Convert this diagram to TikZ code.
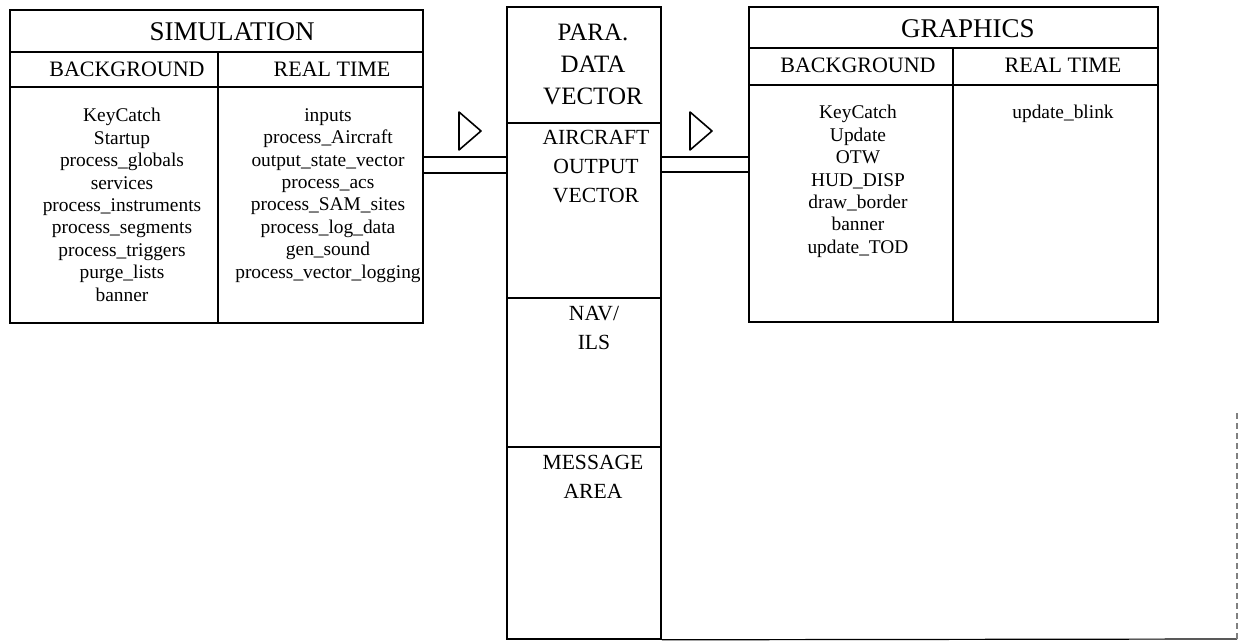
\documentclass[tikz,border=0pt]{standalone}
\usepackage{fontspec}
\setmainfont{Liberation Serif}
\usetikzlibrary{positioning}

\begin{document}
\begin{tikzpicture}[
  x=0.5pt,y=-0.5pt,
  frame/.style={draw,line width=0.8pt,inner sep=0pt},
  rule/.style={line width=0.8pt},
  link/.style={line width=0.6pt},
  flowtip/.style={line width=0.8pt,line join=round},
  title/.style={inner sep=0pt,font=\fontsize{13.5}{16}\selectfont},
  colhead/.style={inner sep=0pt,font=\fontsize{11}{13}\selectfont},
  items/.style={anchor=north,inner sep=0pt,align=center,font=\fontsize{9.7}{11.2}\selectfont},
  vecbig/.style={anchor=north,inner sep=0pt,align=center,font=\fontsize{12.5}{16}\selectfont},
  vec/.style={anchor=north,inner sep=0pt,align=center,font=\fontsize{10.8}{14.4}\selectfont},
]
\useasboundingbox (0,0) rectangle (1238,641);

% the three blocks
\node[frame,minimum width=206.5pt,minimum height=156.5pt] (sim) at (216.5,166.5) {};
\node[frame,minimum width=77pt,minimum height=316pt] (mid) at (584,323) {};
\node[frame,minimum width=204.5pt,minimum height=157.5pt] (gfx) at (953.5,164.5) {};

% simulation table
\draw[rule] (sim.west |- 0,52) -- (sim.east |- 0,52);
\draw[rule] (sim.west |- 0,87) -- (sim.east |- 0,87);
\draw[rule] (218,52) -- (sim.south -| 218,0);
\node[title] (simtitle) at (232,32) {SIMULATION};
\node[colhead] (simbg) at (127,69) {BACKGROUND};
\node[colhead] (simrt) at (332,69) {REAL TIME};
\node[items] (simbglist) at (122,108) {KeyCatch\\Startup\\process\_globals\\services\\process\_instruments\\process\_segments\\process\_triggers\\purge\_lists\\banner};
\node[items] (simrtlist) at (328,108) {inputs\\process\_Aircraft\\output\_state\_vector\\process\_acs\\process\_SAM\_sites\\process\_log\_data\\gen\_sound\\process\_vector\_logging};

% parameter data vector column
\draw[rule] (mid.west |- 0,123) -- (mid.east |- 0,123);
\draw[rule] (mid.west |- 0,298) -- (mid.east |- 0,298);
\draw[rule] (mid.west |- 0,447) -- (mid.east |- 0,447);
\node[vecbig] (para) at (593,24) {PARA.\\DATA\\VECTOR};
\node[vec] (acvec) at (596,130) {AIRCRAFT\\OUTPUT\\VECTOR};
\node[vec] (navils) at (594,306) {NAV/\\ILS};
\node[vec] (msgarea) at (593,455) {MESSAGE\\AREA};

% graphics table
\draw[rule] (gfx.west |- 0,48) -- (gfx.east |- 0,48);
\draw[rule] (gfx.west |- 0,85) -- (gfx.east |- 0,85);
\draw[rule] (953,48) -- (gfx.south -| 953,0);
\node[title] (gfxtitle) at (968,29) {GRAPHICS};
\node[colhead] (gfxbg) at (858,65) {BACKGROUND};
\node[colhead] (gfxrt) at (1063,65) {REAL TIME};
\node[items] (gfxbglist) at (858,105) {KeyCatch\\Update\\OTW\\HUD\_DISP\\draw\_border\\banner\\update\_TOD};
\node[items] (gfxrtlist) at (1063,105) {update\_blink};

% data paths
\draw[link] (sim.east |- 0,157) -- (mid.west |- 0,157);
\draw[link] (sim.east |- 0,173) -- (mid.west |- 0,173);
\draw[link] (mid.east |- 0,157) -- (gfx.west |- 0,157);
\draw[link] (mid.east |- 0,172) -- (gfx.west |- 0,172);
\draw[flowtip] (459,112) -- (481,131) -- (459,150) -- cycle;
\draw[flowtip] (690,112) -- (712,131) -- (690,150) -- cycle;

% page edge
\draw[link] (mid.south east) -- (1237,639);
\draw[link,densely dashed,gray] (1237,639) -- (1237,413);
\end{tikzpicture}
\end{document}
